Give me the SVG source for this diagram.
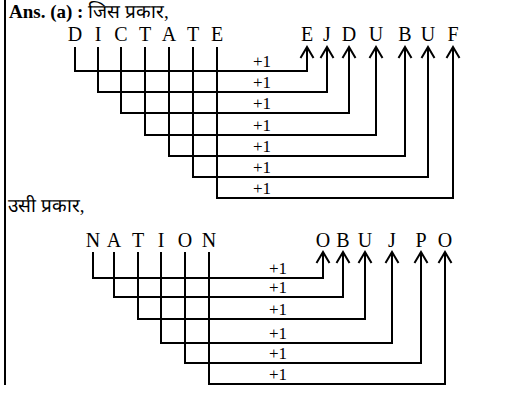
<svg xmlns="http://www.w3.org/2000/svg" width="517" height="414" viewBox="0 0 517 414" font-family="'Liberation Serif', 'Times New Roman', 'DejaVu Serif', serif">
<style>
.l{font-size:20px;text-anchor:middle}
.p{font-size:17px;text-anchor:middle}
.h{font-size:19px}
.c{fill:none;stroke:#000;stroke-width:2}
.ar{marker-end:url(#a)}
</style>
<defs>
<marker id="a" markerUnits="userSpaceOnUse" markerWidth="30" markerHeight="30" refX="11" refY="0" orient="auto" overflow="visible">
<path d="M0,-6.5 L11,0 L0,6.5" fill="none" stroke="#000" stroke-width="2"/>
</marker>
</defs>
<rect width="517" height="414" fill="#fff"/>
<line x1="5" y1="0" x2="5" y2="385" stroke="#000" stroke-width="2"/>
<g id="header1"><text class="h" x="9" y="18"><tspan font-weight="bold">Ans. (a) :</tspan> जिस प्रकार,</text></g>
<g id="header2"><text class="h" x="8" y="212">उसी प्रकार,</text></g>
<g id="src1">
<g id="s1_D"><text class="l" x="75" y="41">D</text></g>
<g id="s1_I"><text class="l" x="98" y="41">I</text></g>
<g id="s1_C"><text class="l" x="121" y="41">C</text></g>
<g id="s1_T"><text class="l" x="145" y="41">T</text></g>
<g id="s1_A"><text class="l" x="169" y="41">A</text></g>
<g id="s1_T2"><text class="l" x="193" y="41">T</text></g>
<g id="s1_E"><text class="l" x="217" y="41">E</text></g>
</g>
<g id="dst1">
<g id="t1_E"><text class="l" x="307" y="41">E</text></g>
<g id="t1_J"><text class="l" x="327" y="41">J</text></g>
<g id="t1_D"><text class="l" x="349" y="41">D</text></g>
<g id="t1_U"><text class="l" x="376" y="41">U</text></g>
<g id="t1_B"><text class="l" x="405" y="41">B</text></g>
<g id="t1_U2"><text class="l" x="428" y="41">U</text></g>
<g id="t1_F"><text class="l" x="453" y="41">F</text></g>
</g>
<g id="src2">
<g id="s2_N"><text class="l" x="93" y="247">N</text></g>
<g id="s2_A"><text class="l" x="114" y="247">A</text></g>
<g id="s2_T"><text class="l" x="138" y="247">T</text></g>
<g id="s2_I"><text class="l" x="161" y="247">I</text></g>
<g id="s2_O"><text class="l" x="185" y="247">O</text></g>
<g id="s2_N2"><text class="l" x="209" y="247">N</text></g>
</g>
<g id="dst2">
<g id="t2_O"><text class="l" x="323" y="247">O</text></g>
<g id="t2_B"><text class="l" x="343" y="247">B</text></g>
<g id="t2_U"><text class="l" x="365" y="247">U</text></g>
<g id="t2_J"><text class="l" x="392" y="247">J</text></g>
<g id="t2_P"><text class="l" x="421" y="247">P</text></g>
<g id="t2_O2"><text class="l" x="445" y="247">O</text></g>
</g>
<g id="connectors">
<path class="c ar" d="M75,47 V71 H307 V47"/>
<path class="c ar" d="M98,47 V92 H327 V47"/>
<path class="c ar" d="M121,47 V113 H349 V47"/>
<path class="c ar" d="M145,47 V135 H376 V47"/>
<path class="c ar" d="M169,47 V156 H405 V47"/>
<path class="c ar" d="M193,47 V177 H428 V47"/>
<path class="c ar" d="M217,47 V198 H453 V47"/>
<path class="c ar" d="M93,252 V278 H323 V252"/>
<path class="c ar" d="M114,252 V297 H343 V252"/>
<path class="c ar" d="M138,252 V319 H365 V252"/>
<path class="c ar" d="M161,252 V343 H392 V252"/>
<path class="c ar" d="M185,252 V363 H421 V252"/>
<path class="c ar" d="M209,252 V384 H445 V252"/>
</g>
<g id="labels">
<text class="p" x="262" y="67">+1</text>
<text class="p" x="262" y="88">+1</text>
<text class="p" x="262" y="109">+1</text>
<text class="p" x="262" y="131">+1</text>
<text class="p" x="262" y="152">+1</text>
<text class="p" x="262" y="173">+1</text>
<text class="p" x="262" y="194">+1</text>
<text class="p" x="278" y="274">+1</text>
<text class="p" x="278" y="293">+1</text>
<text class="p" x="278" y="315">+1</text>
<text class="p" x="278" y="339">+1</text>
<text class="p" x="278" y="359">+1</text>
<text class="p" x="278" y="380">+1</text>
</g>
</svg>
